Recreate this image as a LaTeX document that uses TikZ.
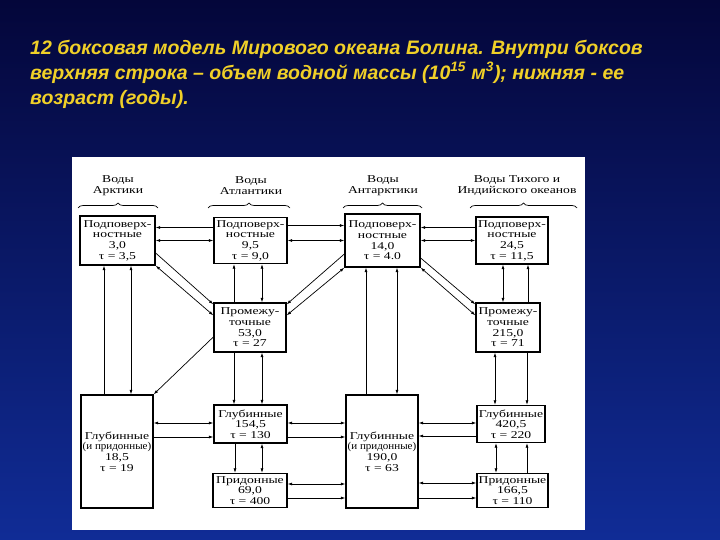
\documentclass[tikz,border=0pt]{standalone}
\usepackage{fontspec}
\usepackage{tikz}
\usepackage{xcolor}
\usetikzlibrary{arrows.meta,positioning,decorations.pathreplacing}

\newfontfamily\titlefont{Liberation Sans}
\newfontfamily\boxfont[FakeStretch=1.3]{Liberation Serif}
\newfontfamily\boxfontn[FakeStretch=1.05]{Liberation Serif}

\definecolor{bgtop}{RGB}{4,6,58}
\definecolor{bgbot}{RGB}{16,44,150}
\definecolor{titleyellow}{RGB}{240,208,40}

\begin{document}
\begin{tikzpicture}[x=1pt, y=-1pt,
  box/.style={draw, line width=1.3pt, fill=white, inner sep=1pt, align=center,
    font=\boxfont\fontsize{10.5}{10.6}\selectfont},
  head/.style={align=center, inner sep=0pt, font=\boxfont\fontsize{10.5}{11.5}\selectfont},
  title/.style={align=left, inner sep=0pt, text=titleyellow,
    font=\titlefont\bfseries\itshape\fontsize{19.5}{25}\selectfont},
  arr/.style={-{Latex[length=4.5pt,width=3pt]}, line width=0.7pt},
  both/.style={{Latex[length=4.5pt,width=3pt]}-{Latex[length=4.5pt,width=3pt]}, line width=0.7pt},
  brace/.style={decorate, decoration={brace, amplitude=5pt}, line width=0.7pt}
]
\useasboundingbox (0,0) rectangle (720,540);
\shade[top color=bgtop, bottom color=bgbot] (0,0) rectangle (720,540);
\fill[white] (72,157) rectangle (585,530);

% title
\node[title, anchor=north west] (ttl) at (30,40)
  {12 боксовая модель Мирового океана Болина. Внутри боксов\\
   верхняя строка – объем водной массы (10\textsuperscript{15} м\textsuperscript{3}); нижняя - ее\\
   возраст (годы).};

% column heads
\node[head] (hA) at (118,185.5) {Воды\\Арктики};
\node[head] (hB) at (251,185.5) {Воды\\Атлантики};
\node[head] (hC) at (383,185.5) {Воды\\Антарктики};
\node[head] (hD) at (517,185.5) {Воды Тихого и\\Индийского океанов};
\draw[brace] (78,208) -- (158,208);
\draw[brace] (208,208) -- (290,208);
\draw[brace] (343,208) -- (422,208);
\draw[brace] (470,208) -- (577,208);

% boxes
\node[box, minimum width=75pt, minimum height=49pt] (A1) at (117.5,240.5) {Подповерх-\\ностные\\3,0\\τ = 3,5};
\node[box, minimum width=73pt, minimum height=46pt] (B1) at (250.5,240.5) {Подповерх-\\ностные\\9,5\\τ = 9,0};
\node[box, minimum width=75pt, minimum height=53pt] (C1) at (382.5,240.5) {Подповерх-\\ностные\\14,0\\τ = 4.0};
\node[box, minimum width=72pt, minimum height=47pt] (D1) at (512,240.5) {Подповерх-\\ностные\\24,5\\τ = 11,5};
\node[box, minimum width=72pt, minimum height=49pt] (B2) at (250,327.5) {Промежу-\\точные\\53,0\\τ = 27};
\node[box, minimum width=64pt, minimum height=49pt] (D2) at (508,327.5) {Промежу-\\точные\\215,0\\τ = 71};
\node[box, minimum width=72pt, minimum height=113pt] (A3) at (117,451.5) {Глубинные\\{\boxfontn(и придонные)}\\18,5\\τ = 19};
\node[box, minimum width=73pt, minimum height=38pt] (B3) at (250.5,424) {Глубинные\\154,5\\τ = 130};
\node[box, minimum width=74pt, minimum height=34pt] (B4) at (250,490.5) {Придонные\\69,0\\τ = 400};
\node[box, minimum width=72pt, minimum height=113pt] (C3) at (382,451.5) {Глубинные\\{\boxfontn(и придонные)}\\190,0\\τ = 63};
\node[box, minimum width=68pt, minimum height=37pt] (D3) at (511,424) {Глубинные\\420,5\\τ = 220};
\node[box, minimum width=71pt, minimum height=34pt] (D4) at (512.5,490.5) {Придонные\\166,5\\τ = 110};

% surface row
\draw[arr] ([yshift=13pt]B1.west) -- ([yshift=13pt]A1.east);
\draw[both] (A1.east) -- (B1.west);
\draw[arr] ([yshift=15pt]B1.east) -- ([yshift=15pt]C1.west);
\draw[both] (B1.east) -- (C1.west);
\draw[arr] ([yshift=13pt]D1.west) -- ([yshift=13pt]C1.east);
\draw[both] (C1.east) -- (D1.west);

% verticals
\draw[arr] ([xshift=-13.5pt]A1.south |- A3.north) -- ([xshift=-13.5pt]A1.south);
\draw[both] ([xshift=13.5pt]A1.south) -- ([xshift=13.5pt]A1.south |- A3.north);
\draw[arr] ([xshift=-16.5pt]B1.south |- B2.north) -- ([xshift=-16.5pt]B1.south);
\draw[both] ([xshift=11.5pt]B1.south) -- ([xshift=11.5pt]B1.south |- B2.north);
\draw[arr] ([xshift=-16pt]B2.south) -- ([xshift=-16pt]B2.south |- B3.north);
\draw[both] ([xshift=12pt]B2.south) -- ([xshift=12pt]B2.south |- B3.north);
\draw[arr] ([xshift=-15.5pt]B3.south) -- ([xshift=-15.5pt]B3.south |- B4.north);
\draw[both] ([xshift=11.5pt]B3.south) -- ([xshift=11.5pt]B3.south |- B4.north);
\draw[arr] ([xshift=-16.5pt]C1.south |- C3.north) -- ([xshift=-16.5pt]C1.south);
\draw[both] ([xshift=14.5pt]C1.south) -- ([xshift=14.5pt]C1.south |- C3.north);
\draw[both] ([xshift=-9pt]D1.south) -- ([xshift=-9pt]D1.south |- D2.north);
\draw[arr] ([xshift=16pt]D1.south |- D2.north) -- ([xshift=16pt]D1.south);
\draw[both] ([xshift=-13pt]D2.south) -- ([xshift=-13pt]D2.south |- D3.north);
\draw[arr] ([xshift=19pt]D2.south) -- ([xshift=19pt]D2.south |- D3.north);
\draw[both] ([xshift=-15pt]D3.south) -- ([xshift=-15pt]D3.south |- D4.north);
\draw[arr] ([xshift=16pt]D3.south |- D4.north) -- ([xshift=16pt]D3.south);

% diagonals
\draw[arr] ([yshift=-12.5pt]A1.east) -- ([yshift=-2pt]B2.north west);
\draw[both] (A1.south east) -- ([yshift=-13pt]B2.north west);
\draw[arr] ([yshift=-13.5pt]C1.west) -- ([yshift=-2pt]B2.north east);
\draw[both] (C1.south west) -- ([yshift=-13pt]B2.north east);
\draw[arr] ([yshift=-17.5pt]C1.east) -- ([yshift=-2pt]D2.north west);
\draw[both] (C1.south east) -- ([yshift=-13pt]D2.north west);
\draw[arr] ([yshift=-9.5pt]B2.west) -- (A3.north east);

% deep rows
\draw[both] ([yshift=1pt]B3.west -| A3.east) -- ([yshift=1pt]B3.west);
\draw[arr] ([yshift=-13pt]B3.west -| A3.east) -- ([yshift=-13pt]B3.west);
\draw[both] ([yshift=1pt]B3.east) -- ([yshift=1pt]B3.east -| C3.west);
\draw[arr] ([yshift=-13pt]B3.east) -- ([yshift=-13pt]B3.east -| C3.west);
\draw[both] ([yshift=6.5pt]B4.east) -- ([yshift=6.5pt]B4.east -| C3.west);
\draw[arr] ([yshift=-7.5pt]B4.east) -- ([yshift=-7.5pt]B4.east -| C3.west);
\draw[both] ([yshift=1pt]D3.west -| C3.east) -- ([yshift=1pt]D3.west);
\draw[arr] ([yshift=-12pt]D3.west) -- ([yshift=-12pt]D3.west -| C3.east);
\draw[both] ([yshift=7.5pt]D4.west -| C3.east) -- ([yshift=7.5pt]D4.west);
\draw[arr] ([yshift=-7.5pt]D4.west -| C3.east) -- ([yshift=-7.5pt]D4.west);
\end{tikzpicture}
\end{document}
